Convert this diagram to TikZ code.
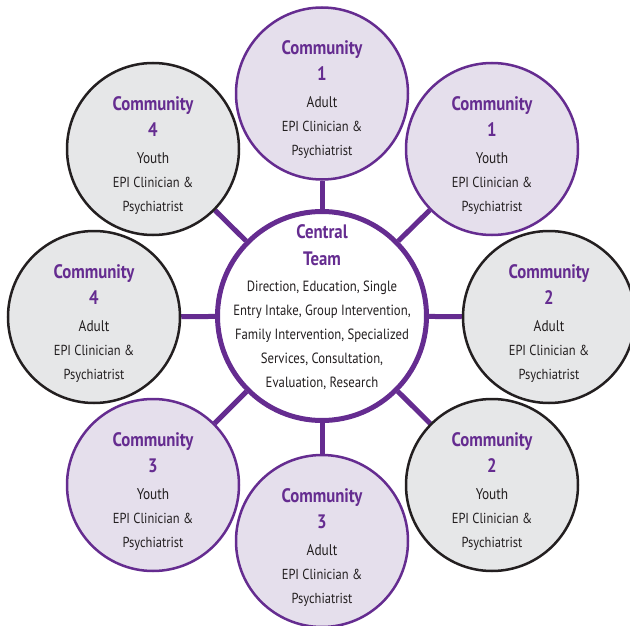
\documentclass[tikz,border=0pt]{standalone}
\usepackage{fontspec}
\setmainfont{PT Sans}[FakeStretch=0.86]
\usetikzlibrary{backgrounds}
\definecolor{epipurple}{HTML}{652C90}
\definecolor{epililac}{HTML}{E5DFEC}
\definecolor{epigray}{HTML}{E6E7E8}
\definecolor{epiink}{HTML}{231F20}

\begin{document}
\begin{tikzpicture}[x=1pt, y=-1pt,
    hub/.style={circle, draw=epipurple, line width=5pt, fill=white,
        minimum size=209pt, inner sep=-40pt, align=center, text=epiink,
        font=\fontsize{14.8}{24}\selectfont},
    commcircle/.style={circle, line width=2.5pt, minimum size=172pt,
        inner sep=0pt, align=center, text=epiink,
        font=\fontsize{14.5}{24}\selectfont},
    lilaccircle/.style={commcircle, draw=epipurple, fill=epililac},
    graycircle/.style={commcircle, draw=epiink, fill=epigray},
    spoke/.style={draw=epipurple, line width=5pt}]

% --- MACRO: LABEL OF A COMMUNITY CIRCLE ---
% #1: Community number
% #2: Adult or Youth
% (the tall strut on the first line pushes the block a little down)
\newcommand{\commLabel}[2]{%
    \rule{0pt}{26pt}{\fontsize{19.5}{24}\selectfont\bfseries\color{epipurple}Community}\\[2pt]
    {\fontsize{19.5}{24}\selectfont\bfseries\color{epipurple}#1}\\[3pt]
    {\fontsize{15.5}{24}\selectfont #2}\\
    EPI Clinician \&\\
    Psychiatrist}

\useasboundingbox (0,0) rectangle (630,626);

% --- CENTRAL TEAM ---
% negative inner sep keeps the circle at its minimum size
\node[hub] (central) at (322,316) {%
    {\fontsize{19.5}{24}\selectfont\bfseries\color{epipurple}Central}\\[3pt]
    {\fontsize{19.5}{24}\selectfont\bfseries\color{epipurple}Team}\\[2pt]
    Direction, Education, Single\\
    Entry Intake, Group Intervention,\\
    Family Intervention, Specialized\\
    Services, Consultation,\\
    Evaluation, Research\rule[-20pt]{0pt}{0pt}};

% --- COMMUNITY CIRCLES ---
\node[lilaccircle] (c1adult) at (322,93.5) {\commLabel{1}{Adult}};
\node[lilaccircle] (c1youth) at (492,149) {\commLabel{1}{Youth}};
\node[graycircle]  (c2adult) at (549,317) {\commLabel{2}{Adult}};
\node[graycircle]  (c2youth) at (492,485) {\commLabel{2}{Youth}};
\node[lilaccircle] (c3adult) at (322,541) {\commLabel{3}{Adult}};
\node[lilaccircle] (c3youth) at (153,485) {\commLabel{3}{Youth}};
\node[graycircle]  (c4adult) at (94,317)  {\commLabel{4}{Adult}};
\node[graycircle]  (c4youth) at (153,149) {\commLabel{4}{Youth}};

% --- SPOKES ---
\begin{scope}[on background layer]
    \foreach \c in {c1adult, c1youth, c2adult, c2youth,
                    c3adult, c3youth, c4adult, c4youth}
        \draw[spoke] (central) -- (\c);
\end{scope}

\end{tikzpicture}
\end{document}
